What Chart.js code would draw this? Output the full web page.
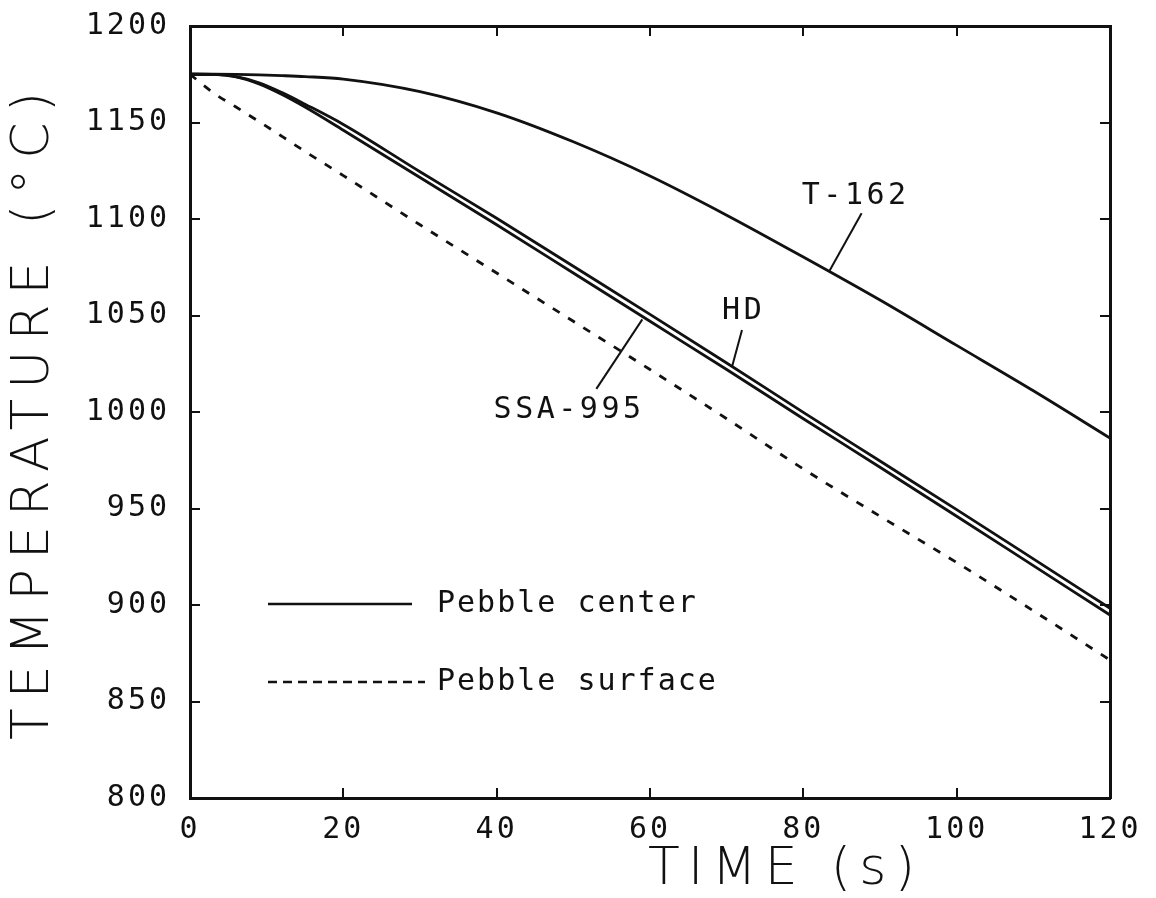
<!DOCTYPE html>
<html>
<head>
<meta charset="utf-8">
<script src="https://cdn.jsdelivr.net/npm/chart.js@4.4.1/dist/chart.umd.min.js"></script>
<style>
  html, body { margin: 0; padding: 0; background: #fff; }
  canvas { display: block; }
</style>
</head>
<body>
<canvas id="chartPebble" width="1156" height="898"></canvas>
<script>
// values (time in s, temperature in deg C)
const timeS = [0, 3, 6, 9, 12, 15, 20, 30, 40, 50, 60, 70, 80, 90, 100, 110, 120];
const centerT162 = [1175, 1175, 1174.9, 1174.7, 1174.3, 1173.8, 1172.5, 1166, 1155, 1140, 1122.3, 1102, 1080.3, 1058, 1034.5, 1011, 986.5];
const centerHD = [1175, 1174.9, 1173.8, 1170.6, 1165.5, 1159.5, 1149, 1124.5, 1100.4, 1075.5, 1050.6, 1025.4, 999.8, 974.6, 949.4, 923.9, 898.3];
const centerSSA995 = [1175, 1174.9, 1173.6, 1170, 1164.5, 1158, 1146, 1121.5, 1097, 1072, 1047, 1022, 996.5, 971.4, 946, 920.4, 894.8];
const surfaceAll = [1175, 1165.5, 1158, 1150.5, 1142.8, 1135, 1122.5, 1097, 1072, 1047, 1022, 996.5, 970.5, 946, 922, 897, 871.5];

const curveLabels = ['T-162', 'HD', 'SSA-995'];
const legendLabels = ['Pebble center', 'Pebble surface'];
const xTitle = 'TIME (s)';
const yTitle = 'TEMPERATURE (\u00B0C)';

const INK = '#111';
const smallFont = '30px "DejaVu Sans Mono", "Liberation Mono", monospace';
const bigFont = '200 52px "DejaVu Sans", "Liberation Sans", sans-serif';

const toPoints = function(values) {
    return timeS.map((t, i) => ({ x: t, y: values[i] }));
};

// where the curve names sit (data units) and their leader lines
const notes = [
    { text: curveLabels[0], at: [79.8, 1112], from: [87.6, 1103], to: [83.4, 1073] },
    { text: curveLabels[1], at: [69.4, 1052], from: [72.0, 1042.5], to: [70.7, 1023.5] },
    { text: curveLabels[2], at: [39.6, 1001], from: [53.0, 1012], to: [59.0, 1048] }
];

const drawSpaced = function(ctx, text, x, y, font, spacing) {
    ctx.save();
    ctx.font = font;
    ctx.letterSpacing = spacing + 'px';
    ctx.fillStyle = INK;
    ctx.textBaseline = 'middle';
    ctx.textAlign = 'left';
    ctx.fillText(text, x, y);
    ctx.restore();
};

// text across a given span: spacing worked out from the glyph widths
const drawSpread = function(ctx, text, x, y, span, font, angle) {
    ctx.save();
    ctx.font = font;
    ctx.letterSpacing = '0px';
    const w = ctx.measureText(text).width;
    const gap = (span - w) / (text.length - 1);
    ctx.translate(x, y);
    ctx.rotate(angle);
    ctx.letterSpacing = gap + 'px';
    ctx.fillStyle = INK;
    ctx.textBaseline = 'middle';
    ctx.textAlign = 'left';
    ctx.fillText(text, 0, 0);
    ctx.restore();
};

const plotterText = {
    id: 'plotterText',
    beforeDraw(chart) {
        chart.ctx.letterSpacing = '3px';
    },
    afterDraw(chart) {
        const ctx = chart.ctx;
        const xs = chart.scales.x;
        const ys = chart.scales.y;
        const px = v => xs.getPixelForValue(v);
        const py = v => ys.getPixelForValue(v);

        // curve names with leaders
        notes.forEach(n => {
            drawSpaced(ctx, n.text, px(n.at[0]), py(n.at[1]), smallFont, 3.5);
            ctx.save();
            ctx.strokeStyle = INK;
            ctx.lineWidth = 2;
            ctx.beginPath();
            ctx.moveTo(px(n.from[0]), py(n.from[1]));
            ctx.lineTo(px(n.to[0]), py(n.to[1]));
            ctx.stroke();
            ctx.restore();
        });

        // legend inside the plot
        const area = chart.chartArea;
        const lx0 = area.left + 78;
        const rows = [
            { y: area.top + 578, end: 222, dash: [] },
            { y: area.top + 656, end: 235, dash: [9, 6] }
        ];
        rows.forEach((r, i) => {
            ctx.save();
            ctx.strokeStyle = INK;
            ctx.lineWidth = 2.6;
            ctx.setLineDash(r.dash);
            ctx.beginPath();
            ctx.moveTo(lx0, r.y);
            ctx.lineTo(area.left + r.end, r.y);
            ctx.stroke();
            ctx.restore();
            drawSpaced(ctx, legendLabels[i], area.left + 247, r.y, smallFont, 2);
        });

        // axis titles
        drawSpread(ctx, xTitle, 648, 870, 267, bigFont, 0);
        drawSpread(ctx, yTitle, 34, 740, 648, bigFont, -Math.PI / 2);
    }
};

const lineSet = function(label, values, dash) {
    return {
        label: label,
        data: toPoints(values),
        borderColor: INK,
        borderWidth: 2.8,
        borderDash: dash,
        pointRadius: 0,
        fill: false,
        cubicInterpolationMode: 'monotone'
    };
};

const plainNumber = v => String(v);

const sideAxis = function(position, afterFit) {
    return {
        type: 'linear',
        position: position,
        ticks: { display: false },
        grid: { drawOnChartArea: false, tickLength: -10, lineWidth: 2, color: INK },
        border: { display: true, color: INK, width: 3 },
        afterFit: afterFit
    };
};

const ctx = document.getElementById('chartPebble').getContext('2d');
new Chart(ctx, {
    type: 'line',
    data: {
        datasets: [
            lineSet(curveLabels[0], centerT162, []),
            lineSet(curveLabels[1], centerHD, []),
            lineSet(curveLabels[2], centerSSA995, []),
            lineSet('surface', surfaceAll, [8, 10])
        ]
    },
    plugins: [plotterText],
    options: {
        responsive: false,
        animation: false,
        layout: { padding: { left: 70, top: 26, right: 46, bottom: 0 } },
        plugins: {
            legend: { display: false },
            tooltip: { enabled: false }
        },
        scales: {
            x: {
                type: 'linear',
                min: 0,
                max: 120,
                ticks: { stepSize: 20, color: INK, padding: 24, maxRotation: 0, callback: plainNumber, font: { family: '"DejaVu Sans Mono", monospace', size: 30 } },
                grid: { drawOnChartArea: false, tickLength: -10, lineWidth: 2, color: INK },
                border: { color: INK, width: 3 },
                afterFit: s => { s.height = 100; s.paddingLeft = 0; s.paddingRight = 0; }
            },
            y: {
                type: 'linear',
                min: 800,
                max: 1200,
                ticks: { stepSize: 50, color: INK, padding: 30, callback: plainNumber, font: { family: '"DejaVu Sans Mono", monospace', size: 30 } },
                grid: { drawOnChartArea: false, tickLength: -10, lineWidth: 2, color: INK },
                border: { color: INK, width: 3 },
                afterFit: s => { s.width = 120; s.paddingTop = 0; s.paddingBottom = 0; }
            },
            x2: Object.assign(sideAxis('top', s => { s.height = 0; }), { min: 0, max: 120, ticks: { display: false, stepSize: 20 } }),
            y2: Object.assign(sideAxis('right', s => { s.width = 0; }), { min: 800, max: 1200, ticks: { display: false, stepSize: 50 } })
        }
    }
});
</script>
</body>
</html>
